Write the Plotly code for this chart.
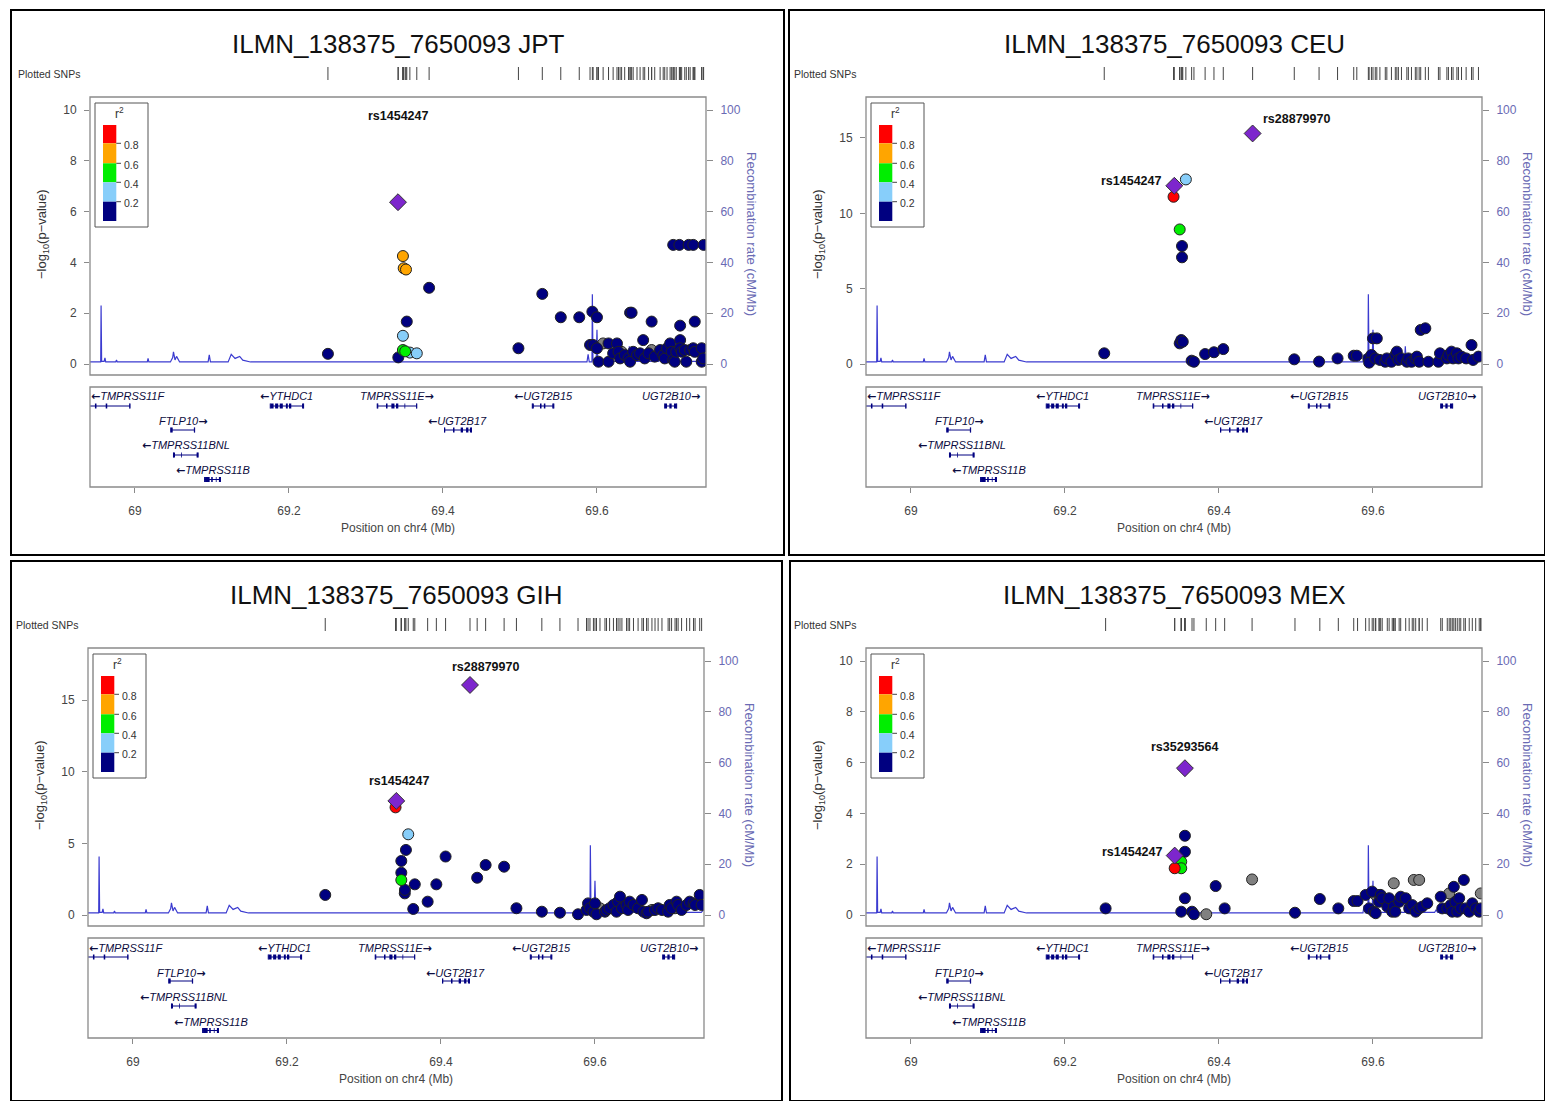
import plotly.graph_objects as go

W, H = 1545, 1101
X_RANGE = [68.9416, 69.7416]

# ---------------- recombination rate (cM/Mb) along chr4 ----------------
RECOMB_POS = [68.9416, 68.9555, 68.9560, 68.9567, 68.9600, 68.9610, 68.9620, 68.9750, 68.9760, 68.9770,
              69.0160, 69.0170, 69.0180, 69.0460, 69.0490, 69.0500, 69.0520, 69.0540, 69.0580, 69.0950,
              69.0965, 69.0980, 69.1210, 69.1250, 69.1300, 69.1360, 69.1400, 69.1500, 69.5870, 69.5885,
              69.5900, 69.5935, 69.5940, 69.5948, 69.5990, 69.6000, 69.6010, 69.6050, 69.6410, 69.6420,
              69.6430, 69.6800, 69.6820, 69.6840, 69.7380, 69.7416]
RECOMB_RATE = [0.8, 0.8, 23.0, 1.0, 1.0, 2.4, 0.8, 0.8, 1.6, 0.8,
               0.8, 2.2, 0.8, 0.8, 2.5, 4.8, 1.6, 3.0, 0.8, 0.8,
               3.6, 0.8, 0.8, 3.8, 2.2, 3.0, 1.5, 0.8, 0.8, 3.8,
               0.8, 0.8, 27.5, 1.5, 1.5, 13.5, 1.5, 1.0, 1.0, 7.0,
               1.0, 1.0, 2.0, 1.0, 1.0, 2.2]

# ---------------- gene annotation ----------------
GENE_NAMES = ["TMPRSS11F", "YTHDC1", "TMPRSS11E", "UGT2B15", "UGT2B10",
              "FTLP10", "UGT2B17", "TMPRSS11BNL", "TMPRSS11B"]
GENE_START = [68.905, 69.1757, 69.3146, 69.516, 69.688, 69.0465, 69.402, 69.050, 69.0904]
GENE_END = [68.9936, 69.219, 69.366, 69.544, 69.7035, 69.0775, 69.437, 69.082, 69.111]
GENE_STRAND = ["-", "-", "+", "-", "+", "+", "-", "-", "-"]
GENE_ROW = [0, 0, 0, 0, 0, 1, 1, 2, 3]
GENE_EXONS = [
    [(68.9480, 68.9500), (68.9620, 68.9640), (68.9926, 68.9936)],
    [(69.1760, 69.1800), (69.1820, 69.1860), (69.1880, 69.1920), (69.1960, 69.1985), (69.2000, 69.2030), (69.2170, 69.2190)],
    [(69.3146, 69.3160), (69.3260, 69.3280), (69.3330, 69.3370), (69.3390, 69.3420), (69.3500, 69.3510), (69.3650, 69.3660)],
    [(69.5160, 69.5180), (69.5260, 69.5280), (69.5310, 69.5330), (69.5420, 69.5440)],
    [(69.6880, 69.6910), (69.6940, 69.6970), (69.7000, 69.7035)],
    [(69.0465, 69.0490), (69.0765, 69.0775)],
    [(69.4020, 69.4030), (69.4130, 69.4150), (69.4230, 69.4260), (69.4300, 69.4330), (69.4350, 69.4370)],
    [(69.0500, 69.0520), (69.0600, 69.0610), (69.0800, 69.0820)],
    [(69.0910, 69.0970), (69.0990, 69.1010), (69.1050, 69.1060), (69.1090, 69.1110)],
]

# ---------------- association results per population ----------------
# r2 = None means LD information is missing (grey)
JPT_POS = [69.2506, 69.3420, 69.3480, 69.3490, 69.3520, 69.3530, 69.3480, 69.3480, 69.3510, 69.3570,
           69.3660, 69.3820, 69.4980, 69.5290, 69.5530, 69.5770, 69.5940, 69.6000, 69.6430, 69.6450,
           69.6710, 69.7080, 69.7270, 69.6990, 69.7070, 69.7190, 69.7250, 69.7385,
           69.591, 69.595, 69.600, 69.602, 69.608, 69.615, 69.615, 69.621, 69.626, 69.628,
           69.630, 69.632, 69.636, 69.641, 69.643, 69.647, 69.652, 69.656, 69.660, 69.662,
           69.667, 69.671, 69.675, 69.682, 69.686, 69.688, 69.691, 69.695, 69.697, 69.699,
           69.701, 69.703, 69.708, 69.708, 69.710, 69.714, 69.716, 69.721, 69.725, 69.727,
           69.736, 69.736, 69.738]
JPT_LOGP = [0.40, 0.26, 4.25, 3.77, 3.72, 1.67, 1.11, 0.55, 0.50, 0.45,
            0.42, 3.00, 0.62, 2.76, 1.84, 1.84, 2.06, 1.84, 2.02, 2.02,
            1.67, 1.51, 1.67, 4.69, 4.69, 4.69, 4.69, 4.69,
            0.75, 0.75, 0.62, 0.09, 0.81, 0.81, 0.09, 0.42, 0.81, 0.48,
            0.22, 0.48, 0.35, 0.22, 0.09, 0.48, 0.35, 0.42, 0.94, 0.22,
            0.42, 0.55, 0.29, 0.55, 0.35, 0.22, 0.62, 0.81, 0.48, 0.16,
            0.09, 0.48, 0.94, 0.62, 0.48, 0.55, 0.09, 0.55, 0.62, 0.48,
            0.62, 0.09, 0.22]
JPT_R2 = [0.1, 0.1, 0.7, 0.7, 0.7, 0.1, 0.3, 0.5, 0.5, 0.3,
          0.3, 0.1, 0.1, 0.1, 0.1, 0.1, 0.1, 0.1, 0.1, 0.1,
          0.1, 0.1, 0.1, 0.1, 0.1, 0.1, 0.1, 0.1,
          0.1, 0.1, 0.1, 0.1, None, 0.1, 0.1, 0.1, 0.1, 0.1,
          0.1, None, 0.1, 0.1, 0.1, 0.1, 0.1, 0.1, 0.1, 0.1,
          0.1, None, 0.1, 0.1, 0.1, 0.1, 0.1, 0.1, 0.1, 0.1,
          0.1, 0.1, 0.1, 0.1, 0.1, 0.1, 0.1, 0.1, 0.1, 0.1,
          0.1, 0.1, 0.1]
JPT_LEAD = ["rs1454247"]
JPT_LEAD_POS = [69.3416]
JPT_LEAD_LOGP = [6.37]

CEU_POS = [69.341, 69.357, 69.349, 69.352, 69.352, 69.349, 69.351, 69.353, 69.251, 69.3645,
           69.3675, 69.382, 69.3935, 69.4056, 69.4978, 69.530, 69.554, 69.575, 69.579,
           69.594, 69.598, 69.595, 69.600, 69.605, 69.603, 69.609, 69.616, 69.618, 69.624,
           69.629, 69.631, 69.633, 69.637, 69.644, 69.646, 69.650, 69.655, 69.657, 69.660,
           69.662, 69.668, 69.672, 69.685, 69.687, 69.696, 69.698, 69.702, 69.704, 69.709,
           69.711, 69.715, 69.721, 69.728, 69.730, 69.737]
CEU_LOGP = [11.10, 12.25, 8.93, 7.83, 7.08, 1.37, 1.59, 1.48, 0.71, 0.22,
            0.15, 0.66, 0.78, 0.99, 0.31, 0.16, 0.37, 0.55, 0.55,
            0.37, 0.60, 0.09, 1.70, 1.70, 0.37, 0.27, 0.15, 0.37, 0.15,
            0.60, 0.82, 0.27, 0.37, 0.15, 0.37, 0.15, 0.37, 0.49, 0.15,
            2.26, 2.37, 0.15, 0.15, 0.71, 0.37, 0.60, 0.82, 0.37, 0.71,
            0.37, 0.49, 0.37, 1.26, 0.27, 0.49]
CEU_R2 = [0.9, 0.3, 0.5, 0.1, 0.1, 0.1, 0.1, 0.1, 0.1, 0.1,
          0.1, 0.1, 0.1, 0.1, 0.1, 0.1, 0.1, 0.1, 0.1,
          0.1, 0.1, 0.1, 0.1, 0.1, 0.1, 0.1, 0.1, 0.1, 0.1,
          0.1, 0.1, 0.1, 0.1, 0.1, 0.1, 0.1, 0.1, 0.1, 0.1,
          0.1, 0.1, 0.1, 0.1, 0.1, 0.1, 0.1, 0.1, 0.1, 0.1,
          0.1, 0.1, 0.1, 0.1, 0.1, 0.1]
CEU_LEAD = ["rs1454247", "rs28879970"]
CEU_LEAD_POS = [69.342, 69.4437]
CEU_LEAD_LOGP = [11.83, 15.30]

GIH_POS = [69.341, 69.3575, 69.3545, 69.3485, 69.3485, 69.3485, 69.353, 69.3532, 69.2497, 69.366,
           69.364, 69.3827, 69.394, 69.406, 69.447, 69.458, 69.482, 69.498, 69.531, 69.5545,
           69.578,
           69.589, 69.591, 69.5935, 69.598, 69.600, 69.602, 69.6065, 69.613, 69.615, 69.619,
           69.624, 69.628, 69.630, 69.6325, 69.635, 69.641, 69.643, 69.645, 69.650, 69.656,
           69.661, 69.663, 69.667, 69.669, 69.674, 69.678, 69.682, 69.687, 69.695, 69.697,
           69.6995, 69.704, 69.706, 69.708, 69.7125, 69.719, 69.723, 69.728, 69.730, 69.736,
           69.7385]
GIH_LOGP = [7.51, 5.63, 4.54, 3.77, 2.95, 2.44, 1.51, 1.75, 1.40, 2.14,
            0.42, 0.93, 2.14, 4.08, 2.60, 3.49, 3.37, 0.47, 0.23, 0.16,
            0.05,
            0.35, 0.81, 0.47, 0.23, 0.81, 0.05, 0.47, 0.23, 0.35, 0.47,
            0.70, 0.23, 0.93, 1.28, 0.47, 0.70, 0.35, 0.93, 0.70, 0.47,
            1.05, 0.23, 0.12, 0.23, 0.35, 0.35, 0.47, 0.35, 0.23, 0.70,
            0.47, 0.47, 0.93, 0.70, 0.35, 0.70, 0.93, 0.81, 0.70, 1.40,
            0.70]
GIH_R2 = [0.9, 0.3, 0.1, 0.1, 0.1, 0.5, 0.1, 0.1, 0.1, 0.1,
          0.1, 0.1, 0.1, 0.1, 0.1, 0.1, 0.1, 0.1, 0.1, 0.1,
          0.1,
          0.1, 0.1, 0.1, 0.1, 0.1, 0.1, None, 0.1, 0.1, 0.1,
          0.1, 0.1, 0.1, 0.1, 0.1, 0.1, 0.1, 0.1, 0.1, 0.1,
          0.1, 0.1, 0.1, 0.1, None, 0.1, 0.1, 0.1, 0.1, 0.1,
          0.1, None, 0.1, 0.1, 0.1, 0.1, 0.1, 0.1, 0.1, 0.1,
          0.1]
GIH_LEAD = ["rs28879970", "rs1454247"]
GIH_LEAD_POS = [69.4377, 69.342]
GIH_LEAD_LOGP = [16.05, 7.96]

MEX_POS = [69.3425, 69.351, 69.351, 69.3558, 69.3558, 69.3558, 69.351, 69.2528, 69.365, 69.3675,
           69.3835, 69.3957, 69.4074, 69.443, 69.4987, 69.531, 69.555, 69.575, 69.580,
           69.5905, 69.595, 69.599, 69.601, 69.6035, 69.608, 69.610, 69.612, 69.6186, 69.621,
           69.625, 69.627, 69.629, 69.634, 69.636, 69.6425, 69.647, 69.651, 69.6555, 69.660,
           69.664, 69.6705, 69.688, 69.690, 69.6965, 69.701, 69.703, 69.705, 69.707, 69.7095,
           69.712, 69.714, 69.718, 69.720, 69.725, 69.729, 69.7334, 69.738, 69.740,
           69.6035, 69.608, 69.627, 69.653, 69.660, 69.627, 69.699, 69.740]
MEX_LOGP = [1.84, 2.10, 1.84, 3.12, 2.49, 0.66, 0.13, 0.26, 0.13, 0.03,
            0.03, 1.14, 0.26, 1.40, 0.09, 0.63, 0.26, 0.55, 0.55,
            0.79, 0.26, 0.92, 0.13, 0.07, 0.52, 0.79, 0.66, 0.33, 0.66,
            0.13, 0.33, 0.13, 0.52, 0.72, 0.66, 0.26, 0.39, 0.13, 0.26,
            0.33, 0.46, 0.72, 0.26, 0.26, 0.39, 0.13, 1.11, 0.52, 0.13,
            0.66, 0.26, 1.38, 0.26, 0.13, 0.46, 0.26, 0.13, 0.26,
            0.79, 0.79, 1.25, 1.38, 1.38, 0.52, 0.85, 0.85]
MEX_R2 = [0.9, 0.5, 0.5, 0.1, 0.1, 0.1, 0.1, 0.1, 0.1, 0.1,
          None, 0.1, 0.1, None, 0.1, 0.1, 0.1, 0.1, 0.1,
          0.1, 0.1, 0.1, 0.1, 0.1, 0.1, 0.1, 0.1, 0.1, 0.1,
          0.1, 0.1, 0.1, 0.1, 0.1, 0.1, 0.1, 0.1, 0.1, 0.1,
          0.1, 0.1, 0.1, 0.1, 0.1, 0.1, 0.1, 0.1, 0.1, 0.1,
          0.1, 0.1, 0.1, 0.1, 0.1, 0.1, 0.1, 0.1, 0.1,
          None, None, None, None, None, None, None, None]
MEX_LEAD = ["rs35293564", "rs1454247"]
MEX_LEAD_POS = [69.3558, 69.3425]
MEX_LEAD_LOGP = [5.78, 2.34]

TITLE_PREFIX = "ILMN_138375_7650093"
X_TICKS = [69, 69.2, 69.4, 69.6]
X_TICK_TEXT = ["69", "69.2", "69.4", "69.6"]
RECOMB_TICKS = [0, 20, 40, 60, 80, 100]
LEGEND_BREAKS = ["0.8", "0.6", "0.4", "0.2"]

# ---------------- styling ----------------
FONT = "Liberation Sans, Arial, sans-serif"
ARROW_FONT = "DejaVu Sans"
NAVY = "#000080"
LIGHTBLUE = "#87CEFA"
GREEN = "#00EE00"
ORANGE = "#FFA500"
RED = "#FF0000"
GREY = "#808080"
PURPLE = "#7D26CD"
RECOMB_COLOR = "#3b3bd0"
RECOMB_AXIS = "#6a6ab4"
AXIS_GREY = "#8a8a8a"
GENE_COLOR = "#000080"
LEGEND_COLORS = [RED, ORANGE, GREEN, LIGHTBLUE, NAVY]

PW, PH = 616, 278  # association panel size (px)


def r2_color(r):
    if r is None:
        return GREY
    if r >= 0.8:
        return RED
    if r >= 0.6:
        return ORANGE
    if r >= 0.4:
        return GREEN
    if r >= 0.2:
        return LIGHTBLUE
    return NAVY


PANELS = [
    dict(pop="JPT", left=90, top=97, box=(11, 10, 784, 555), ymax=10.512, yticks=[0, 2, 4, 6, 8, 10],
         pos=JPT_POS, logp=JPT_LOGP, r2=JPT_R2, lead=JPT_LEAD, lead_pos=JPT_LEAD_POS, lead_logp=JPT_LEAD_LOGP,
         label_style=[("center", 0, 86)]),
    dict(pop="CEU", left=866, top=97, box=(789, 10, 1545, 555), ymax=17.72, yticks=[0, 5, 10, 15],
         pos=CEU_POS, logp=CEU_LOGP, r2=CEU_R2, lead=CEU_LEAD, lead_pos=CEU_LEAD_POS, lead_logp=CEU_LEAD_LOGP,
         label_style=[("right", -10, 5), ("left", 8, 14)]),
    dict(pop="GIH", left=88, top=648, box=(11, 561, 782, 1101), ymax=18.63, yticks=[0, 5, 10, 15],
         pos=GIH_POS, logp=GIH_LOGP, r2=GIH_R2, lead=GIH_LEAD, lead_pos=GIH_LEAD_POS, lead_logp=GIH_LEAD_LOGP,
         label_style=[("center", 15, 18), ("center", 3, 20)]),
    dict(pop="MEX", left=866, top=648, box=(790, 561, 1545, 1101), ymax=10.512, yticks=[0, 2, 4, 6, 8, 10],
         pos=MEX_POS, logp=MEX_LOGP, r2=MEX_R2, lead=MEX_LEAD, lead_pos=MEX_LEAD_POS, lead_logp=MEX_LEAD_LOGP,
         label_style=[("center", 0, 21), ("right", -10, 4)]),
]


def ref(axis, n):
    return axis if n == 1 else f"{axis}{n}"


def key(axis, n):
    return f"{axis}axis" if n == 1 else f"{axis}axis{n}"


def xp(px):
    return px / W


def yp(py):
    return 1 - py / H


fig = go.Figure()
layout = {}
annotations = []
shapes = []

for i, p in enumerate(PANELS):
    n = 4 * i + 1
    L, T = p["left"], p["top"]
    R, B = L + PW, T + PH
    xdom = [xp(L), xp(R)]
    xm, yr, yl = ref("x", n), ref("y", n), ref("y", n + 1)
    xg, yg = ref("x", n + 2), ref("y", n + 2)
    xr, yrug = ref("x", n + 3), ref("y", n + 3)

    ymax = p["ymax"]
    ymin = -ymax * 11 / 267

    # ---- axes: association panel (recombination on the base axis, -log10 p on top) ----
    layout[key("x", n)] = dict(domain=xdom, range=X_RANGE, anchor=yr, visible=False, fixedrange=True)
    layout[key("y", n)] = dict(domain=[yp(B), yp(T)], range=[-4.33, 105.12], anchor=xm, side="right",
                               tickvals=RECOMB_TICKS, ticks="outside", ticklen=6, tickcolor=AXIS_GREY,
                               tickfont=dict(family=FONT, size=12, color=RECOMB_AXIS),
                               ticklabelstandoff=5, showgrid=False, zeroline=False, showline=False)
    layout[key("y", n + 1)] = dict(range=[ymin, ymax], overlaying=yr, anchor=xm, side="left",
                                   tickvals=p["yticks"], ticks="outside", ticklen=5, tickcolor=AXIS_GREY,
                                   tickfont=dict(family=FONT, size=12, color="#444444"),
                                   ticklabelstandoff=5, showgrid=False, zeroline=False, showline=False)
    # ---- axes: gene track ----
    gT, gB = T + 290, T + 390
    layout[key("x", n + 2)] = dict(domain=xdom, range=X_RANGE, anchor=yg, tickvals=X_TICKS, ticktext=X_TICK_TEXT,
                                   ticks="outside", ticklen=5, tickcolor=AXIS_GREY,
                                   tickfont=dict(family=FONT, size=12, color="#444444"), ticklabelstandoff=8,
                                   showgrid=False, zeroline=False, showline=False)
    layout[key("y", n + 2)] = dict(domain=[yp(gB), yp(gT)], range=[0, 100], anchor=xg, visible=False)
    # ---- axes: plotted SNP rug ----
    layout[key("x", n + 3)] = dict(domain=xdom, range=X_RANGE, anchor=yrug, visible=False)
    layout[key("y", n + 3)] = dict(domain=[yp(T - 17), yp(T - 30)], range=[0, 1], anchor=xr, visible=False)

    # ---- recombination rate ----
    fig.add_trace(go.Scatter(x=RECOMB_POS, y=RECOMB_RATE, mode="lines", xaxis=xm, yaxis=yr,
                             line=dict(color=RECOMB_COLOR, width=1.2), hoverinfo="skip", showlegend=False))

    # ---- SNPs, drawn from low to high LD so strong LD sits on top ----
    order = sorted(range(len(p["pos"])), key=lambda k: -1 if p["r2"][k] is None else p["r2"][k])
    fig.add_trace(go.Scatter(
        x=[p["pos"][k] for k in order], y=[p["logp"][k] for k in order], mode="markers",
        xaxis=xm, yaxis=yl, showlegend=False,
        marker=dict(size=11, color=[r2_color(p["r2"][k]) for k in order],
                    line=dict(color="#222222", width=1))))
    fig.add_trace(go.Scatter(
        x=p["lead_pos"], y=p["lead_logp"], mode="markers", xaxis=xm, yaxis=yl, showlegend=False,
        marker=dict(symbol="diamond", size=13, color=PURPLE, line=dict(color="#333333", width=1))))
    for name, lx, ly, (anc, dx, dy) in zip(p["lead"], p["lead_pos"], p["lead_logp"], p["label_style"]):
        annotations.append(dict(x=lx, y=ly, xref=xm, yref=yl, text=f"<b>{name}</b>", showarrow=False,
                                xanchor=anc, yanchor="middle", xshift=dx, yshift=dy,
                                font=dict(family=FONT, size=12.5, color="#111111")))

    # ---- rug of plotted SNPs ----
    all_pos = list(p["pos"]) + list(p["lead_pos"])
    rx, ry = [], []
    for v in all_pos:
        rx += [v, v, None]
        ry += [0, 1, None]
    fig.add_trace(go.Scatter(x=rx, y=ry, mode="lines", xaxis=xr, yaxis=yrug, hoverinfo="skip",
                             line=dict(color="#444444", width=1), showlegend=False))

    # ---- genes ----
    row_line = [81, 57, 32, 7.5]
    row_label = [90, 65, 41, 16]
    gx, gy, ex, ey, tx, ty = [], [], [], [], [], []
    for g, name in enumerate(GENE_NAMES):
        yline = row_line[GENE_ROW[g]]
        gx += [GENE_START[g], GENE_END[g], None]
        gy += [yline, yline, None]
        for end in (GENE_START[g], GENE_END[g]):
            tx += [end, end, None]
            ty += [yline - 2.5, yline + 2.5, None]
        for (s, e) in GENE_EXONS[g]:
            ex += [s, e, None]
            ey += [yline, yline, None]
        arrow = "\u2190" if GENE_STRAND[g] == "-" else "\u2192"
        arrow_html = f'<span style="font-family:{ARROW_FONT};font-weight:bold">{arrow}</span>'
        if GENE_STRAND[g] == "-":
            label = f"{arrow_html}<i>{name}</i>"
        else:
            label = f"<i>{name}</i>{arrow_html}"
        half = 0.0049 * (len(name) + 1)
        mid = (GENE_START[g] + GENE_END[g]) / 2
        mid = min(max(mid, X_RANGE[0] + half), X_RANGE[1] - half)
        annotations.append(dict(x=mid, y=row_label[GENE_ROW[g]], xref=xg, yref=yg, text=label,
                                showarrow=False, xanchor="center", yanchor="middle",
                                font=dict(family=FONT, size=11, color="#0c0c40")))
    fig.add_trace(go.Scatter(x=gx, y=gy, mode="lines", xaxis=xg, yaxis=yg, hoverinfo="skip",
                             line=dict(color=GENE_COLOR, width=1), showlegend=False))
    fig.add_trace(go.Scatter(x=tx, y=ty, mode="lines", xaxis=xg, yaxis=yg, hoverinfo="skip",
                             line=dict(color=GENE_COLOR, width=1), showlegend=False))
    fig.add_trace(go.Scatter(x=ex, y=ey, mode="lines", xaxis=xg, yaxis=yg, hoverinfo="skip",
                             line=dict(color=GENE_COLOR, width=5), showlegend=False))

    # ---- frames ----
    shapes.append(dict(type="rect", xref=f"{xm} domain", yref=f"{yr} domain", x0=0, x1=1, y0=0, y1=1,
                       line=dict(color=AXIS_GREY, width=1.3)))
    shapes.append(dict(type="rect", xref=f"{xg} domain", yref=f"{yg} domain", x0=0, x1=1, y0=0, y1=1,
                       line=dict(color=AXIS_GREY, width=1.3)))
    bx0, by0, bx1, by1 = p["box"]
    shapes.append(dict(type="rect", xref="paper", yref="paper", x0=xp(bx0), x1=xp(bx1), y0=yp(by1), y1=yp(by0),
                       line=dict(color="#000000", width=2)))

    # ---- r2 colour legend ----
    def lx_(px):
        return px / PW

    def ly_(py):
        return 1 - py / PH

    shapes.append(dict(type="rect", xref=f"{xm} domain", yref=f"{yr} domain", x0=lx_(5), x1=lx_(58),
                       y0=ly_(130), y1=ly_(6), line=dict(color="#555555", width=1), fillcolor="white"))
    band_edges = [28, 46.3, 66.3, 85.3, 104.7, 124]
    for c, col in enumerate(LEGEND_COLORS):
        shapes.append(dict(type="rect", xref=f"{xm} domain", yref=f"{yr} domain", x0=lx_(13), x1=lx_(26.3),
                           y0=ly_(band_edges[c + 1]), y1=ly_(band_edges[c]), line=dict(width=0), fillcolor=col))
    for c, lab in enumerate(LEGEND_BREAKS):
        yy = band_edges[c + 1]
        shapes.append(dict(type="line", xref=f"{xm} domain", yref=f"{yr} domain", x0=lx_(26.3), x1=lx_(31),
                           y0=ly_(yy), y1=ly_(yy), line=dict(color="#444444", width=1)))
        annotations.append(dict(x=lx_(32), y=ly_(yy + 1.5), xref=f"{xm} domain", yref=f"{yr} domain",
                                text=lab, showarrow=False, xanchor="left", yanchor="middle",
                                font=dict(family=FONT, size=10.5, color="#333333")))
    annotations.append(dict(x=lx_(29), y=ly_(16), xref=f"{xm} domain", yref=f"{yr} domain",
                            text="r<sup>2</sup>", showarrow=False, xanchor="center", yanchor="middle",
                            font=dict(family=FONT, size=12, color="#333333")))

    # ---- titles and axis labels ----
    annotations.append(dict(x=xp(L + PW / 2), y=yp(T - 53), xref="paper", yref="paper",
                            text=f"{TITLE_PREFIX} {p['pop']}", showarrow=False, xanchor="center", yanchor="middle",
                            font=dict(family=FONT, size=26, color="#111111")))
    annotations.append(dict(x=xp(L - 74), y=yp(T - 23), xref="paper", yref="paper", text="Plotted SNPs",
                            showarrow=False, xanchor="left", yanchor="middle",
                            font=dict(family=FONT, size=10.5, color="#333333")))
    annotations.append(dict(x=xp(L - 48), y=yp(T + PH / 2 - 2), xref="paper", yref="paper",
                            text="\u2212log<sub>10</sub>(p\u2212value)", showarrow=False, textangle=-90,
                            xanchor="center", yanchor="middle",
                            font=dict(family=FONT, size=13, color="#333333")))
    annotations.append(dict(x=xp(R + 46), y=yp(T + PH / 2 - 2), xref="paper", yref="paper",
                            text="Recombination rate (cM/Mb)", showarrow=False, textangle=90,
                            xanchor="center", yanchor="middle",
                            font=dict(family=FONT, size=13, color=RECOMB_AXIS)))
    annotations.append(dict(x=xp(L + PW / 2), y=yp(gB + 41), xref="paper", yref="paper",
                            text="Position on chr4 (Mb)", showarrow=False, xanchor="center", yanchor="middle",
                            font=dict(family=FONT, size=12, color="#444444")))

layout.update(dict(
    width=W, height=H, margin=dict(l=0, r=0, t=0, b=0),
    paper_bgcolor="white", plot_bgcolor="white", showlegend=False,
    annotations=annotations, shapes=shapes, font=dict(family=FONT),
))
fig.update_layout(**layout)
fig.write_html("out.html")
